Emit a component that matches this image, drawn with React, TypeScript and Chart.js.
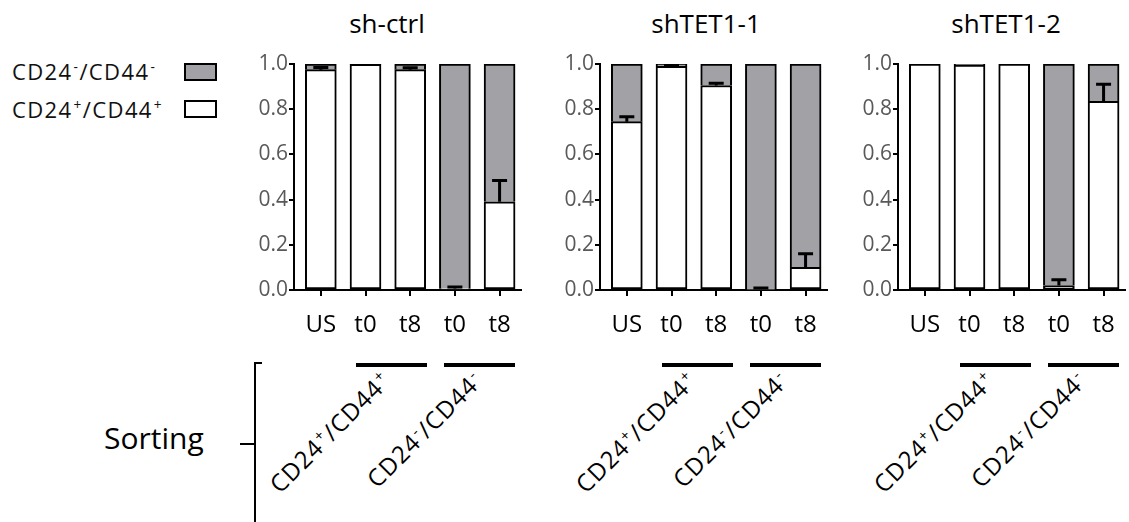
import React, { useEffect, useRef } from "react";
import { Chart, registerables } from "chart.js";

Chart.register(...registerables);

// ---------- data ----------
const categories = ["US", "t0", "t8", "t0", "t8"];
const panelTitles = ["sh-ctrl", "shTET1-1", "shTET1-2"];
const yTickValues = [0, 0.2, 0.4, 0.6, 0.8, 1.0];

// fraction of CD24+/CD44+ (white part), mean and SEM
const shCtrlPos = [0.975, 0.998, 0.975, 0.005, 0.39];
const shCtrlErr = [0.01, 0, 0.008, 0.008, 0.095];
const shTet11Pos = [0.745, 0.99, 0.905, 0.004, 0.1];
const shTet11Err = [0.022, 0.003, 0.01, 0.005, 0.06];
const shTet12Pos = [1.0, 0.995, 1.0, 0.02, 0.835];
const shTet12Err = [0, 0, 0, 0.025, 0.075];

const panelPos = [shCtrlPos, shTet11Pos, shTet12Pos];
const panelErr = [shCtrlErr, shTet11Err, shTet12Err];

// ---------- layout / style ----------
const FONT = "'Open Sans', 'Noto Sans', 'DejaVu Sans', sans-serif";
const GRAY = "#a2a2a6";
const PANEL_AXIS_X = [294, 600, 898];
const TITLE_CENTER_X = [387, 706, 1006];
const PLOT_TOP = 64;
const PLOT_BOTTOM = 290;
const PLOT_W = 229;
const Y_AXIS_W = 50;
const X_AXIS_H = 60;
const CANVAS_TOP = 40;
const PAD_RIGHT = 3;
const X_MIN = -0.6;
const X_MAX = 4.48;

function makeErrorPlugin(vals: number[], errs: number[]) {
  return {
    id: "errBars",
    afterDatasetsDraw(chart: any) {
      const { ctx } = chart;
      const xs = chart.scales.x;
      const ys = chart.scales.y;
      ctx.save();
      ctx.strokeStyle = "#000";
      ctx.lineWidth = 3;
      vals.forEach((v, i) => {
        const e = errs[i];
        if (!e) return;
        const x = xs.getPixelForValue(i);
        const y0 = ys.getPixelForValue(v);
        const y1 = ys.getPixelForValue(v + e);
        ctx.beginPath();
        ctx.moveTo(x, y0);
        ctx.lineTo(x, y1);
        ctx.moveTo(x - 7.5, y1);
        ctx.lineTo(x + 7.5, y1);
        ctx.stroke();
      });
      ctx.restore();
    },
  };
}

function Panel({ index }: { index: number }) {
  const ref = useRef<HTMLCanvasElement>(null);
  const pos = panelPos[index];
  const err = panelErr[index];
  const width = Y_AXIS_W + PLOT_W + PAD_RIGHT;
  const height = PLOT_BOTTOM - CANVAS_TOP + X_AXIS_H;

  useEffect(() => {
    if (!ref.current) return;
    const neg = pos.map((v) => Math.max(0, +(1 - v).toFixed(4)));
    const chart = new Chart(ref.current, {
      type: "bar",
      data: {
        datasets: [
          {
            label: "CD24+/CD44+",
            data: pos.map((y, i) => ({ x: i, y })),
            backgroundColor: "#ffffff",
            borderColor: "#000000",
            borderWidth: 2,
            borderSkipped: false,
            barThickness: 31,
          },
          {
            label: "CD24-/CD44-",
            data: neg.map((y, i) => ({ x: i, y })),
            backgroundColor: GRAY,
            borderColor: "#000000",
            borderWidth: { top: 2, left: 2, right: 2, bottom: 0 },
            borderSkipped: false,
            barThickness: 31,
          },
        ],
      } as any,
      options: {
        animation: false,
        responsive: false,
        layout: { padding: { top: PLOT_TOP - CANVAS_TOP, right: PAD_RIGHT, left: 0, bottom: 0 } },
        plugins: { legend: { display: false }, tooltip: { enabled: false }, title: { display: false } },
        scales: {
          x: {
            type: "linear",
            stacked: true,
            min: X_MIN,
            max: X_MAX,
            offset: false,
            afterBuildTicks: (s: any) => {
              s.ticks = categories.map((_, i) => ({ value: i }));
            },
            afterFit: (s: any) => {
              s.height = X_AXIS_H;
            },
            ticks: {
              autoSkip: false,
              maxRotation: 0,
              minRotation: 0,
              color: "#000",
              font: { family: FONT, size: 24 },
              padding: 15,
              callback: (_v: any, i: number) => categories[i],
            },
            grid: { drawOnChartArea: false, color: "#000", lineWidth: 2, tickLength: 6, offset: false },
            border: { display: true, color: "#000", width: 2 },
          },
          y: {
            stacked: true,
            min: 0,
            max: 1,
            afterBuildTicks: (s: any) => {
              s.ticks = yTickValues.map((value) => ({ value }));
            },
            afterFit: (s: any) => {
              s.width = Y_AXIS_W;
            },
            ticks: {
              color: "#595959",
              font: { family: FONT, size: 21 },
              padding: 1,
              callback: (v: any) => Number(v).toFixed(1),
            },
            grid: { drawOnChartArea: false, color: "#000", lineWidth: 2, tickLength: 5 },
            border: { display: true, color: "#000", width: 2 },
          },
        },
      } as any,
      plugins: [makeErrorPlugin(pos, err)],
    });
    return () => chart.destroy();
  }, []);

  return (
    <canvas
      ref={ref}
      width={width}
      height={height}
      style={{
        position: "absolute",
        left: PANEL_AXIS_X[index] - Y_AXIS_W,
        top: CANVAS_TOP,
        width,
        height,
        display: "block",
      }}
    />
  );
}

function Sup({ c }: { c: string }) {
  return (
    <span style={{ fontSize: "0.62em", position: "relative", top: "-0.62em", marginLeft: 1 }}>{c}</span>
  );
}

function Marker({ sign }: { sign: string }) {
  return (
    <>
      CD24
      <Sup c={sign} />
      /CD44
      <Sup c={sign} />
    </>
  );
}

export default function App() {
  const abs = (o: React.CSSProperties): React.CSSProperties => ({ position: "absolute", ...o });
  const rot = (left: number): React.CSSProperties =>
    abs({
      left,
      top: 377,
      fontSize: 24,
      lineHeight: "24px",
      letterSpacing: 1,
      whiteSpace: "nowrap",
      color: "#000",
      transformOrigin: "100% 50%",
      transform: "translate(-100%, -50%) rotate(-45deg)",
    });
  return (
    <div
      style={{
        position: "fixed",
        left: 0,
        top: 0,
        width: 1129,
        height: 522,
        background: "#fff",
        fontFamily: FONT,
        color: "#111",
        overflow: "hidden",
      }}
    >
      {/* legend */}
      <div style={abs({ left: 12, top: 60, fontSize: 22, lineHeight: "22px", letterSpacing: 1.4, whiteSpace: "nowrap" })}>
        <Marker sign="-" />
      </div>
      <div style={abs({ left: 184, top: 63, width: 29, height: 14, background: GRAY, border: "2px solid #000" })} />
      <div style={abs({ left: 12, top: 98, fontSize: 22, lineHeight: "22px", letterSpacing: 1.4, whiteSpace: "nowrap" })}>
        <Marker sign="+" />
      </div>
      <div style={abs({ left: 184, top: 100, width: 29, height: 14, background: "#fff", border: "2px solid #000" })} />

      {/* titles */}
      {panelTitles.map((t, i) => (
        <div
          key={t}
          style={abs({
            left: TITLE_CENTER_X[i] - 100,
            width: 200,
            top: 10,
            fontSize: 26,
            lineHeight: "26px",
            textAlign: "center",
            color: "#000",
          })}
        >
          {t}
        </div>
      ))}

      {[0, 1, 2].map((i) => (
        <Panel key={i} index={i} />
      ))}

      {/* group lines and sorting labels */}
      {PANEL_AXIS_X.map((ax, i) => (
        <React.Fragment key={"g" + i}>
          <div style={abs({ left: ax + 62, top: 363, width: 71, height: 4, background: "#000" })} />
          <div style={abs({ left: ax + 150, top: 363, width: 71, height: 4, background: "#000" })} />
          <div style={rot(ax + 93)}>
            <Marker sign="+" />
          </div>
          <div style={rot(ax + 185)}>
            <Marker sign="-" />
          </div>
        </React.Fragment>
      ))}

      {/* sorting bracket */}
      <div style={abs({ left: 104, top: 423, fontSize: 30, lineHeight: "30px", color: "#000" })}>Sorting</div>
      <div style={abs({ left: 254, top: 362, width: 2, height: 170, background: "#000" })} />
      <div style={abs({ left: 254, top: 362, width: 8, height: 2, background: "#000" })} />
      <div style={abs({ left: 240, top: 443, width: 15, height: 2, background: "#000" })} />
    </div>
  );
}
